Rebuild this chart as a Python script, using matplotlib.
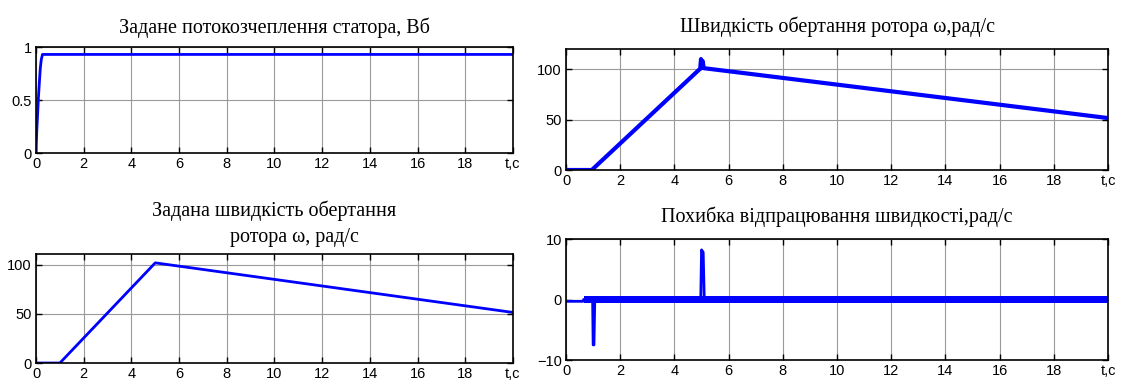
import numpy as np
import matplotlib
matplotlib.use('Agg')
import matplotlib.pyplot as plt

# Data
flux_t = [0, 0.03, 0.07, 0.1, 0.15, 0.18, 0.22, 0.27, 20]
flux_v = [0, 0.2, 0.38, 0.52, 0.7, 0.8, 0.88, 0.93, 0.93]

wref_t = [0, 1.0, 5.0, 20]
wref_v = [0, 0, 102, 51.5]

w_t = [0, 0.95, 4.95, 4.98, 5.0, 5.04, 5.08, 20]
w_v = [0, 0, 100.5, 110, 101, 108, 101, 51.5]

err_t = [0, 0.62, 0.65, 0.98, 1.0, 1.03, 1.06, 4.97, 5.0, 5.06, 5.1, 5.12, 20]
err_v = [-0.3, -0.3, 0, 0, -7.5, -7.5, 0, 0, 8.2, 7.8, 0, 0, 0]
band_t = [0.65, 20]
band_lo = [-0.65, -0.65]
band_hi = [0.65, 0.65]

xticks = list(range(0, 21, 2))
xlabels = [str(v) for v in xticks[:-1]] + ['t,c']

blue = '#0000ff'
title_font = dict(family='Liberation Serif', fontsize=14.5)

fig = plt.figure(figsize=(11.22, 3.81), dpi=100)
ax1 = fig.add_axes([0.0321, 0.5984, 0.4251, 0.2782])
ax2 = fig.add_axes([0.5045, 0.5538, 0.4831, 0.3176])
ax3 = fig.add_axes([0.0321, 0.0472, 0.4251, 0.2861])
ax4 = fig.add_axes([0.5045, 0.0551, 0.4831, 0.3176])

def style(ax, ylim, yticks):
    ax.set_xlim(0, 20)
    ax.set_ylim(*ylim)
    ax.set_xticks(xticks)
    ax.set_xticklabels(xlabels)
    ax.set_yticks(yticks)
    ax.tick_params(direction='in', top=True, right=True, length=4, width=1,
                   labelsize=10.5, pad=3)
    for lab in ax.get_xticklabels() + ax.get_yticklabels():
        lab.set_family('Liberation Sans')
    ax.grid(True, color='#9a9a9a', linewidth=0.8)
    ax.set_axisbelow(True)
    for s in ax.spines.values():
        s.set_linewidth(1.2)
        s.set_color('black')

ax1.plot(flux_t, flux_v, color=blue, linewidth=2)
style(ax1, (0, 1), [0, 0.5, 1])
ax1.set_yticklabels(['0', '0.5', '1'])
ax1.set_title('Задане потокозчеплення статора, Вб', pad=10, **title_font)

ax2.plot(w_t, w_v, color=blue, linewidth=3)
style(ax2, (0, 120), [0, 50, 100])
ax2.set_title('Швидкість обертання ротора ω,рад/с', pad=12, **title_font)

ax3.plot(wref_t, wref_v, color=blue, linewidth=2)
style(ax3, (0, 111), [0, 50, 100])
ax3.set_title('Задана швидкість обертання\n        ротора ω, рад/с', pad=9,
              linespacing=1.45, **title_font)

ax4.fill_between(band_t, band_lo, band_hi, color=blue, linewidth=0)
ax4.plot(err_t, err_v, color=blue, linewidth=2)
style(ax4, (-10, 10), [-10, 0, 10])
ax4.set_title('Похибка відпрацювання швидкості,рад/с', pad=12, **title_font)

fig.savefig('out.png', dpi=100)
